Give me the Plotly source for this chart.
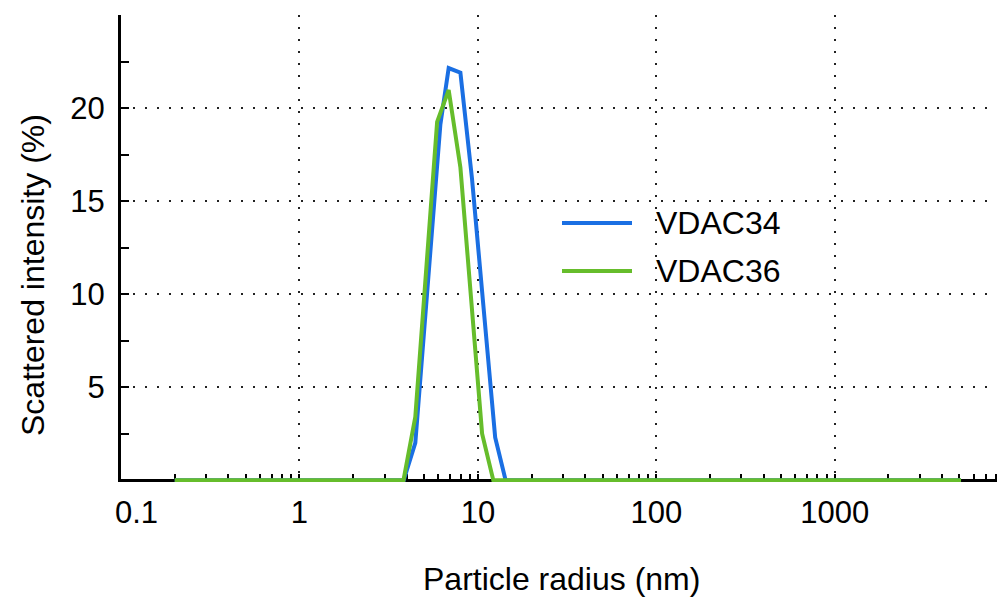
import plotly.graph_objects as go

# ---- data ----
blue_name = "VDAC34"
blue_x = [0.2, 3.84, 4.46, 6.16, 6.86, 7.98, 9.27, 12.5, 14.3, 5100]
blue_y = [0, 0, 2.0, 19.1, 22.15, 21.9, 16.2, 2.3, 0, 0]

green_name = "VDAC36"
green_x = [0.2, 3.83, 4.46, 5.91, 6.86, 7.98, 10.56, 12.2, 5100]
green_y = [0, 0, 3.4, 19.26, 20.97, 16.8, 2.5, 0, 0]

x_tickvals = [0.1, 1, 10, 100, 1000]
x_ticktext = ["", "1", "10", "100", "1000"]
y_tickvals = [0, 5, 10, 15, 20, 25]
y_ticktext = ["", "5", "10", "15", "20", ""]

x_title = "Particle radius (nm)"
y_title = "Scattered intensity (%)"

BLUE = "#1a6fe3"
GREEN = "#66bd2b"
FONT = "Liberation Sans, Arial, sans-serif"

W, H = 1005, 598
OFF = 8  # default page body margin of the html page
# desired window pixels: plot left 121, right 1005, top 15, bottom 482
ML = 121 - OFF
MT = 15 - OFF
MR = OFF
MB = H - (482 - OFF)
YMIN, YMAX = -0.1, 25
TICK_SIZE = 31
TITLE_SIZE = 32
LEG_SIZE = 32
LW = 4

fig = go.Figure()
fig.add_trace(go.Scatter(x=blue_x, y=blue_y, mode="lines", name=blue_name,
                         line=dict(color=BLUE, width=LW), showlegend=False))
fig.add_trace(go.Scatter(x=green_x, y=green_y, mode="lines", name=green_name,
                         line=dict(color=GREEN, width=LW), showlegend=False))

minor_x = [m * 10 ** k for k in range(-1, 4) for m in range(2, 10)]

fig.update_layout(
    width=W, height=H,
    margin=dict(l=ML, r=MR, t=MT, b=MB, autoexpand=False),
    plot_bgcolor="white", paper_bgcolor="white",
    font=dict(family=FONT, size=TICK_SIZE, color="black"),
    xaxis=dict(
        type="log", range=[-1, 3.954], automargin=False,
        tickmode="array", tickvals=x_tickvals, ticktext=x_ticktext,
        ticks="inside", ticklen=5, tickwidth=2, tickcolor="black",
        showline=True, linewidth=3, linecolor="black",
        showgrid=True, gridcolor="#222", gridwidth=2, griddash="2px,10px",
        zeroline=False, layer="below traces",
        anchor="free", position=(0 - YMIN) / (YMAX - YMIN),
        ticklabelstandoff=4,
        minor=dict(tickmode="array", tickvals=minor_x, ticks="inside",
                   ticklen=5, tickwidth=2, tickcolor="black", showgrid=False),
    ),
    yaxis=dict(
        range=[YMIN, YMAX], automargin=False,
        tickmode="array", tickvals=y_tickvals, ticktext=y_ticktext,
        ticks="inside", ticklen=8, tickwidth=2, tickcolor="black",
        showline=True, linewidth=3, linecolor="black",
        showgrid=True, gridcolor="#222", gridwidth=2, griddash="2px,10px",
        zeroline=False, layer="below traces",
        ticklabelstandoff=7,
        minor=dict(tickmode="linear", tick0=0, dtick=2.5, ticks="inside",
                   ticklen=8, tickwidth=2, tickcolor="black", showgrid=False),
    ),
)

plot_w = W - ML - MR
plot_h = H - MT - MB
def px(win_x):
    return (win_x - OFF - ML) / plot_w
def py(win_y):
    return (H - MB - (win_y - OFF)) / plot_h

# x tick label 0.1 (shifted right of the y axis as in the reference)
fig.add_annotation(text="0.1", xref="paper", yref="paper",
                   x=px(136), y=py(512), xanchor="center", yanchor="middle",
                   showarrow=False, font=dict(size=TICK_SIZE))

# axis titles
fig.add_annotation(text=x_title, xref="paper", yref="paper",
                   x=px(561), y=py(579), xanchor="center", yanchor="middle",
                   showarrow=False, font=dict(size=TITLE_SIZE))
fig.add_annotation(text=y_title, xref="paper", yref="paper",
                   x=px(33), y=py(275), xanchor="center", yanchor="middle",
                   textangle=-90, showarrow=False,
                   font=dict(size=TITLE_SIZE))

# legend (drawn manually to match the long legend lines)
for name, color, ly in [(blue_name, BLUE, 223), (green_name, GREEN, 271)]:
    fig.add_shape(type="line", xref="paper", yref="paper",
                  x0=px(562), x1=px(632), y0=py(ly), y1=py(ly),
                  line=dict(color=color, width=LW))
    fig.add_annotation(text=name, xref="paper", yref="paper",
                       x=px(654), y=py(ly), xanchor="left", yanchor="middle",
                       showarrow=False, font=dict(size=LEG_SIZE))

fig.write_html("out.html")
